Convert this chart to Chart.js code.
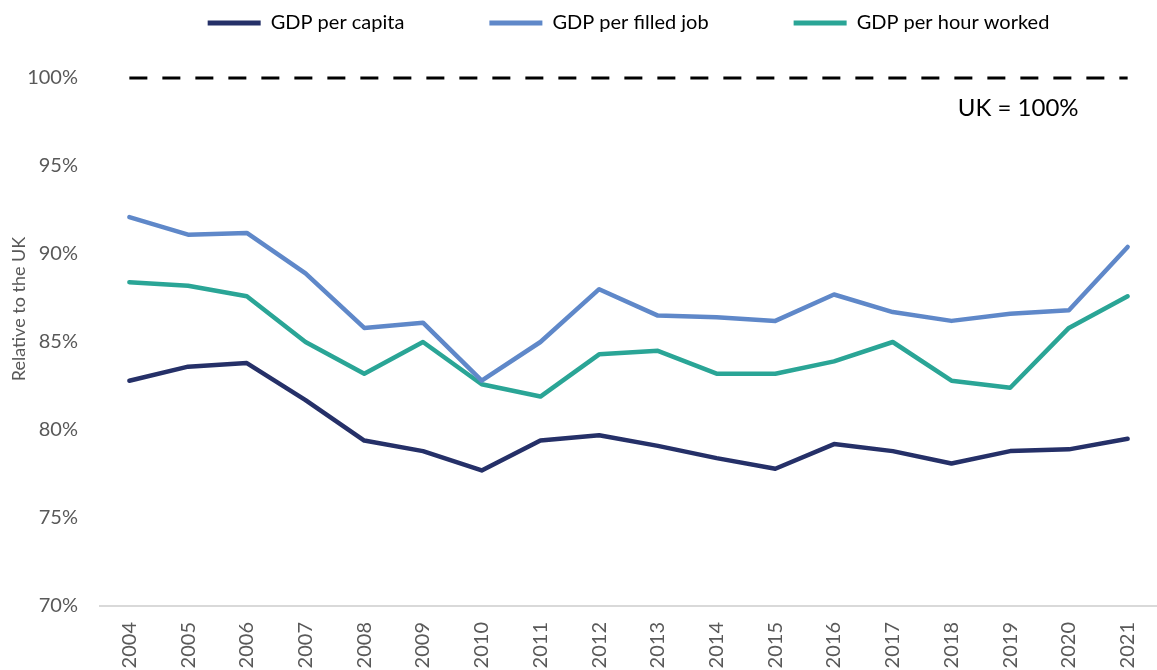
<!DOCTYPE html>
<html>
<head>
<meta charset="utf-8">
<script src="https://cdn.jsdelivr.net/npm/chart.js@4"></script>
<style>
  html, body { margin: 0; padding: 0; background: #fff; }
  #wrap { width: 1157px; height: 670px; }
</style>
</head>
<body>
<div id="wrap"><canvas id="myChart"></canvas></div>
<script>
const years = ['2004', '2005', '2006', '2007', '2008', '2009', '2010', '2011', '2012', '2013', '2014', '2015', '2016', '2017', '2018', '2019', '2020', '2021'];
const perCapita = [82.8, 83.6, 83.8, 81.7, 79.4, 78.8, 77.7, 79.4, 79.7, 79.1, 78.4, 77.8, 79.2, 78.8, 78.1, 78.8, 78.9, 79.5];
const perJob = [92.1, 91.1, 91.2, 88.9, 85.8, 86.1, 82.8, 85.0, 88.0, 86.5, 86.4, 86.2, 87.7, 86.7, 86.2, 86.6, 86.8, 90.4];
const perHour = [88.4, 88.2, 87.6, 85.0, 83.2, 85.0, 82.6, 81.9, 84.3, 84.5, 83.2, 83.2, 83.9, 85.0, 82.8, 82.4, 85.8, 87.6];
const ukLevel = years.map(() => 100);
const yTicks = [70, 75, 80, 85, 90, 95, 100];

const FONT = 'Lato, "Open Sans", sans-serif';

// legend tweaks: fixed height, shifted to sit over the plot area
const legendTweak = {
    id: 'legendTweak',
    afterInit(chart) {
        const fit = chart.legend.fit;
        chart.legend.fit = function() {
            fit.call(this);
            this.height = 150;
        };
    },
    afterLayout(chart) {
        chart.legend.left += 100;
    }
};

const extraText = {
    id: 'extraText',
    afterDatasetsDraw(chart) {
        const { ctx, scales, chartArea } = chart;
        ctx.save();
        ctx.font = '24px ' + FONT;
        ctx.fillStyle = '#000';
        ctx.textAlign = 'center';
        ctx.textBaseline = 'middle';
        ctx.fillText('UK = 100%', scales.x.getPixelForValue(15) + 8, scales.y.getPixelForValue(98.3));

        ctx.font = '18px ' + FONT;
        ctx.fillStyle = '#595959';
        ctx.translate(19, (chartArea.top + chartArea.bottom) / 2 - 33);
        ctx.rotate(-Math.PI / 2);
        ctx.fillText('Relative to the UK', 0, 0);
        ctx.restore();
    }
};

const ctx = document.getElementById('myChart').getContext('2d');
const myChart = new Chart(ctx, {
    type: 'line',
    data: {
        labels: years,
        datasets: [{
            label: 'GDP per capita',
            data: perCapita,
            borderColor: '#253068',
            backgroundColor: '#253068',
            borderWidth: 4.5
        }, {
            label: 'GDP per filled job',
            data: perJob,
            borderColor: '#5f88c9',
            backgroundColor: '#5f88c9',
            borderWidth: 4.5
        }, {
            label: 'GDP per hour worked',
            data: perHour,
            borderColor: '#2aa596',
            backgroundColor: '#2aa596',
            borderWidth: 4.5
        }, {
            label: 'UK',
            data: ukLevel,
            borderColor: '#000',
            borderWidth: 3,
            borderDash: [18, 15],
            borderCapStyle: 'butt',
            clip: false
        }]
    },
    options: {
        responsive: true,
        maintainAspectRatio: false,
        animation: false,
        layout: { padding: { top: -72, right: 0, left: 0, bottom: 0 } },
        elements: {
            point: { radius: 0 },
            line: { tension: 0, borderCapStyle: 'round', borderJoinStyle: 'round' }
        },
        scales: {
            y: {
                min: 70,
                max: 100,
                afterBuildTicks: (axis) => { axis.ticks = yTicks.map(v => ({ value: v })); },
                afterFit: (axis) => { axis.width = 100; },
                grid: { display: false, drawTicks: false },
                border: { display: false },
                ticks: {
                    padding: 22,
                    color: '#595959',
                    font: { size: 20, family: FONT },
                    callback: function(value) {
                        return value + '%';
                    }
                }
            },
            x: {
                offset: true,
                afterFit: (axis) => {
                    axis.height = 64;
                    axis.paddingRight = 0;
                    axis.paddingLeft = 0;
                },
                grid: { display: false, drawTicks: false },
                border: { display: true, color: '#d9d9d9', width: 2 },
                ticks: {
                    maxRotation: 90,
                    minRotation: 90,
                    padding: 16,
                    color: '#595959',
                    font: { size: 20, family: FONT }
                }
            }
        },
        plugins: {
            legend: {
                display: true,
                position: 'top',
                labels: {
                    filter: (item) => item.text !== 'UK',
                    boxWidth: 53,
                    boxHeight: 0,
                    padding: 85,
                    color: '#595959',
                    font: { size: 20, family: FONT },
                    generateLabels: (chart) => chart.data.datasets.map((ds, i) => ({
                        text: ds.label,
                        strokeStyle: ds.borderColor,
                        fillStyle: ds.borderColor,
                        lineWidth: 5,
                        lineCap: 'round',
                        datasetIndex: i
                    }))
                }
            },
            tooltip: { enabled: false }
        }
    },
    plugins: [legendTweak, extraText]
});
</script>
</body>
</html>
